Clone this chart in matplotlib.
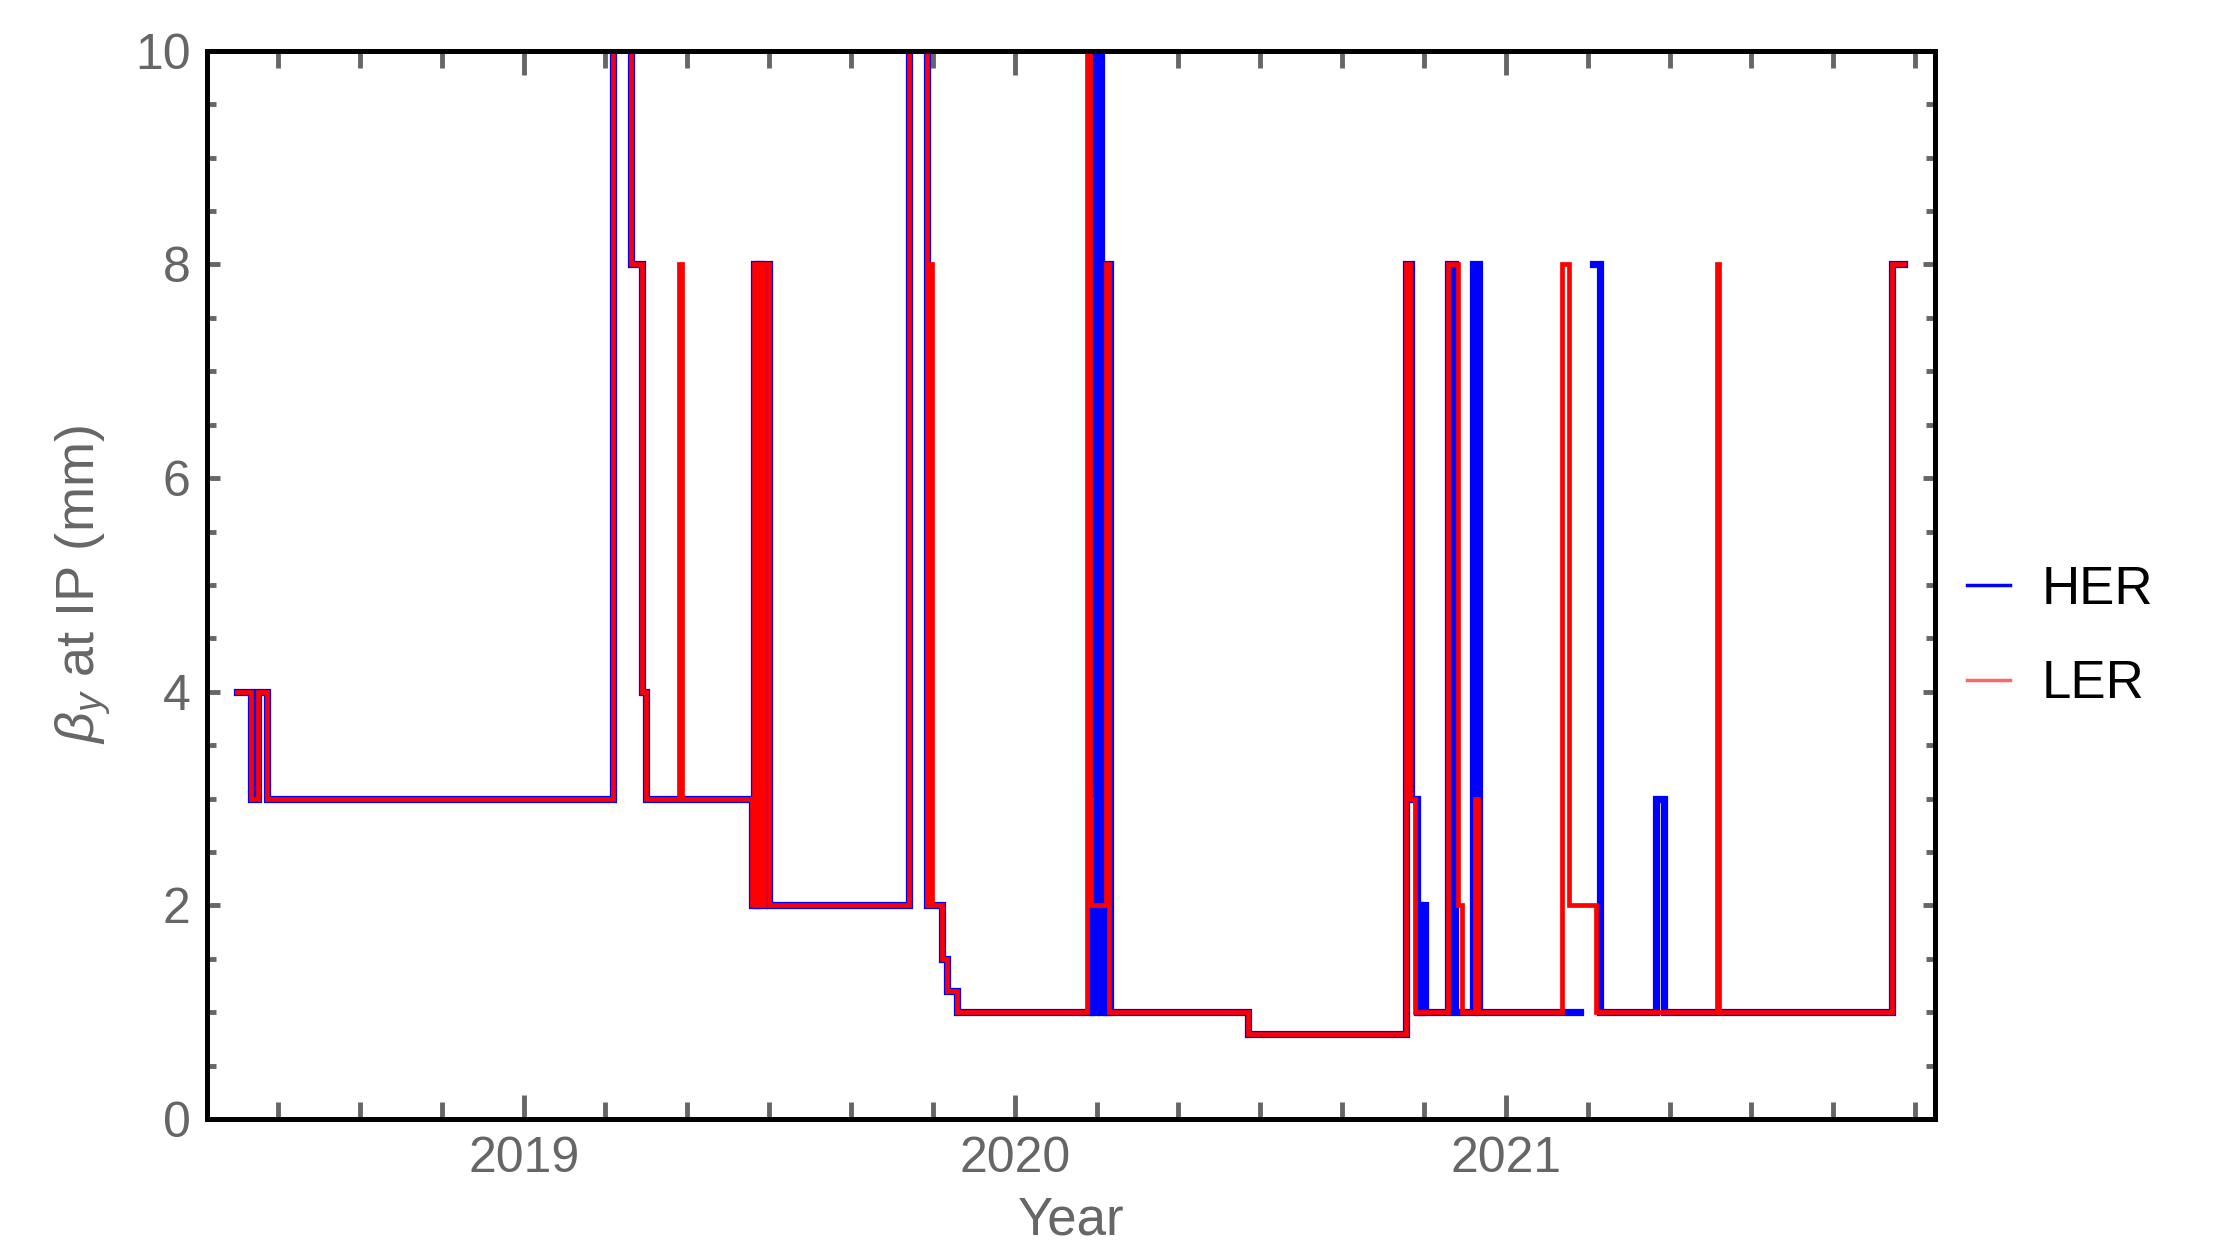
import numpy as np
import matplotlib
matplotlib.use("Agg")
import matplotlib.pyplot as plt
from matplotlib.lines import Line2D
from matplotlib.ticker import FixedLocator

plt.rcParams['font.family'] = ['Liberation Sans', 'DejaVu Sans']
plt.rcParams['mathtext.fontset'] = 'custom'
plt.rcParams['mathtext.it'] = 'Liberation Sans:italic'
plt.rcParams['mathtext.rm'] = 'Liberation Sans'

# beta_y* settings (mm) as step changes: (decimal year, new value)
# values above the plot range are stored as 12 and get clipped
her_t = [2018.417, 2018.445, 2018.460, 2018.477, 2019.181, 2019.218, 2019.241, 2019.250,
         2019.466, 2019.470, 2019.474, 2019.478, 2019.484, 2019.489, 2019.494, 2019.500,
         2019.784, 2019.822, 2019.851, 2019.862, 2019.882,
         2020.155, 2020.160, 2020.163, 2020.176, 2020.180, 2020.185, 2020.188, 2020.193,
         2020.474, 2020.796, 2020.807, 2020.819, 2020.822, 2020.826, 2020.829, 2020.836,
         2020.882, 2020.897, 2020.934, 2020.946,
         2021.152, 2021.178, 2021.192, 2021.305, 2021.322, 2021.787, 2021.810]
her_v = [4, 3, 4, 3, 12, 8, 4, 3,
         2, 8, 2, 8, 2, 8, 8, 2,
         12, 2, 1.5, 1.2, 1.0,
         12, 1, 12, 1, 2, 1, 8, 1,
         0.8, 8, 3, 1, 2, 1, 2, 1,
         8, 1, 8, 1,
         np.nan, 8, 1, 3, 1, 8, 8]

ler_t = [2018.417, 2018.445, 2018.460, 2018.477, 2019.181, 2019.218, 2019.241, 2019.250,
         2019.316, 2019.322,
         2019.466, 2019.470, 2019.474, 2019.478, 2019.484, 2019.489, 2019.494, 2019.500,
         2019.784, 2019.821, 2019.825, 2019.831, 2019.851, 2019.862, 2019.882,
         2020.147, 2020.153, 2020.156, 2020.185, 2020.192,
         2020.474, 2020.796, 2020.804, 2020.815,
         2020.882, 2020.902, 2020.911, 2020.937, 2020.944,
         2021.115, 2021.129, 2021.184, 2021.431, 2021.434, 2021.787, 2021.810]
ler_v = [4, 3, 4, 3, 12, 8, 4, 3,
         8, 3,
         2, 8, 2, 8, 2, 8, 8, 2,
         12, 2, 8, 2, 1.5, 1.2, 1.0,
         12, 3, 2, 8, 1,
         0.8, 8, 3, 1,
         8, 2, 1, 3, 1,
         8, 2, 1, 8, 1, 8, 8]

year_ticks = [2019, 2020, 2021]
year_labels = ['2019', '2020', '2021']

tick_gray = '#666666'

fig = plt.figure(figsize=(22.13, 12.49), dpi=100)
ax = fig.add_axes([0.0937, 0.104, 0.7807, 0.8553])

ax.plot(her_t, her_v, drawstyle='steps-post', color='blue', lw=5.2,
        solid_joinstyle='miter')
ax.plot(ler_t, ler_v, drawstyle='steps-post', color='red', lw=3.4,
        solid_joinstyle='miter')

ax.set_xlim(2018.356, 2021.874)
ax.set_ylim(0, 10)

ax.set_xticks(year_ticks)
ax.set_xticklabels(year_labels)
ax.xaxis.set_minor_locator(FixedLocator(np.arange(2018.5, 2021.9, 1 / 6)))
ax.set_yticks([0, 2, 4, 6, 8, 10])
ax.yaxis.set_minor_locator(FixedLocator(np.arange(0, 10.01, 0.5)))

ax.tick_params(which='both', direction='in', top=True, right=True,
               color=tick_gray, labelcolor=tick_gray, labelsize=36, width=3.5)
ax.tick_params(axis='x', which='major', length=17, pad=12)
ax.tick_params(axis='x', which='minor', length=12)
ax.tick_params(axis='y', which='major', length=9, pad=12)
ax.tick_params(axis='y', which='minor', length=6.5)

for sp in ax.spines.values():
    sp.set_linewidth(3.6)
    sp.set_color('black')
    sp.set_zorder(3)

ax.set_xlabel('Year', fontsize=38, color=tick_gray, labelpad=10)
ax.set_ylabel(r'$\beta_y$ at IP (mm)', fontsize=39, color=tick_gray, labelpad=16)

handles = [Line2D([], [], color='blue', lw=2.5),
           Line2D([], [], color='#ff6666', lw=2.5)]
fig.legend(handles, ['HER', 'LER'], loc='center left',
           bbox_to_anchor=(0.889, 0.49), frameon=False, fontsize=38,
           handlelength=0.8, handletextpad=0.6, labelspacing=0.85,
           borderpad=0, borderaxespad=0)

fig.savefig('out.png', dpi=100)
